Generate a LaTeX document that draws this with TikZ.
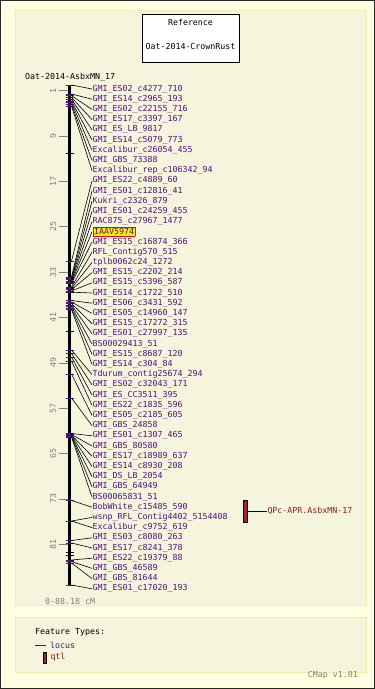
\documentclass[tikz,border=0pt]{standalone}
\usepackage{fontspec}
\newfontfamily\mapfont{DejaVu Sans Mono}
\usetikzlibrary{positioning}
\definecolor{pagebg}{RGB}{255,255,226}
\definecolor{panelbg}{RGB}{245,245,222}
\definecolor{panelrule}{RGB}{242,236,170}
\definecolor{locuscol}{RGB}{80,16,120}
\definecolor{qtlcol}{RGB}{160,36,48}
\definecolor{qtltext}{RGB}{140,28,36}
\definecolor{scalegray}{RGB}{128,128,128}
\newcommand*{\axisX}{69.5}
\newcommand*{\axisTop}{85}
\newcommand*{\axisBot}{585}
\newcommand*{\cmScale}{5.67}
\newcommand*{\labelX}{92}
\newcommand*{\hilite}[1]{{\fboxsep=1pt\fcolorbox{red}{yellow}{#1}}}

\begin{document}
\begin{tikzpicture}[x=1pt,y=-1pt,
	font={\mapfont\fontsize{8.3}{10}\selectfont},
	locuslabel/.style={anchor=west,inner sep=0.5pt,text=locuscol},
	leader/.style={black,line width=0.6pt},
	marktick/.style={locuscol,line width=0.6pt},
	scalelabel/.style={text=scalegray,rotate=90,inner sep=0pt},
	qtlbar/.style={draw=black,fill=qtlcol,minimum width=4,minimum height=22,inner sep=0pt,line width=0.6pt}]
	% page and panels
	\fill[pagebg] (0,0) rectangle (375,689);
	\draw[black!85,line width=1pt] (0.5,0.5) rectangle (374.5,688.5);
	\filldraw[fill=panelbg,draw=panelrule,line width=1pt] (15,10) rectangle (366,605);
	\filldraw[fill=panelbg,draw=panelrule,line width=1pt] (15,617) rectangle (366,672);
	
	% reference box
	\node[draw=black,fill=white,minimum width=97,minimum height=48,line width=0.8pt] (refbox) at (190.5,38) {};
	\node (reftitle) at (190.5,22) {Reference};
	\node (refmap) at (190.5,46) {Oat-2014-CrownRust};
	\node[anchor=west,inner sep=0pt] (mapname) at (25,77) {Oat-2014-AsbxMN\_17};
	
	% scale
	\foreach \c in {1,9,...,81} {
		\draw[scalegray,line width=0.6pt] (59,{\axisTop+\c*\cmScale}) -- (\axisX,{\axisTop+\c*\cmScale});
		\node[scalelabel] (s\c) at (53,{\axisTop+\c*\cmScale}) {\c};
	}
	\draw[line width=3pt] (\axisX,\axisTop) -- (\axisX,\axisBot);
	\draw[line width=1pt] (66,\axisTop) -- (73,\axisTop);
	\draw[line width=1pt] (66,\axisBot) -- (73,\axisBot);
	\node[text=scalegray,anchor=west,inner sep=0pt] (range) at (45,601) {0-88.18 cM};
	
	% markers without label
	\foreach \py in {153,331,552,555} {
		\draw[black,line width=0.8pt] (\axisX-4,\py) -- (\axisX+4,\py);
	}
	
	% loci
	\foreach \n/\txt/\py in {
		1/GMI\_ES02\_c4277\_710/85,
		2/GMI\_ES14\_c2965\_193/94,
		3/GMI\_ES02\_c22155\_716/95.7,
		4/GMI\_ES17\_c3397\_167/97.4,
		5/GMI\_ES\_LB\_9817/99.1,
		6/GMI\_ES14\_c5079\_773/100.8,
		7/Excalibur\_c26054\_455/102.5,
		8/GMI\_GBS\_73388/104.2,
		9/Excalibur\_rep\_c106342\_94/106,
		10/GMI\_ES22\_c4889\_60/261,
		11/GMI\_ES01\_c12816\_41/277,
		12/Kukri\_c2326\_879/278.3,
		13/GMI\_ES01\_c24259\_455/279.6,
		14/RAC875\_c27967\_1477/280.9,
		15/\hilite{IAAV5974}/282.2,
		16/GMI\_ES15\_c16874\_366/283.5,
		17/RFL\_Contig570\_515/287,
		18/tplb0062c24\_1272/288.3,
		19/GMI\_ES15\_c2202\_214/289.6,
		20/GMI\_ES15\_c5396\_587/290.9,
		21/GMI\_ES14\_c1722\_510/292.2,
		22/GMI\_ES06\_c3431\_592/300.5,
		23/GMI\_ES05\_c14960\_147/302,
		24/GMI\_ES15\_c17272\_315/303.5,
		25/GMI\_ES01\_c27997\_135/305,
		26/BS00029413\_51/306.5,
		27/GMI\_ES15\_c8687\_120/308,
		28/GMI\_ES14\_c304\_84/309.5,
		29/Tdurum\_contig25674\_294/350,
		30/GMI\_ES02\_c32043\_171/353.5,
		31/GMI\_ES\_CC3511\_395/357,
		32/GMI\_ES22\_c1835\_596/361,
		33/GMI\_ES05\_c2185\_605/374,
		34/GMI\_GBS\_24858/398,
		35/GMI\_ES01\_c1307\_465/433.5,
		36/GMI\_GBS\_80580/434.5,
		37/GMI\_ES17\_c18989\_637/435,
		38/GMI\_ES14\_c8930\_208/435.5,
		39/GMI\_DS\_LB\_2054/436,
		40/GMI\_GBS\_64949/436.5,
		41/BS00065831\_51/437,
		42/BobWhite\_c15485\_590/500.5,
		43/wsnp\_RFL\_Contig4402\_5154408/521,
		44/Excalibur\_c9752\_619/521,
		45/GMI\_ES03\_c8080\_263/540.5,
		46/GMI\_ES17\_c8241\_378/543,
		47/GMI\_ES22\_c19379\_88/560,
		48/GMI\_GBS\_46589/561.5,
		49/GMI\_GBS\_81644/563,
		50/GMI\_ES01\_c17020\_193/585} {
		\draw[marktick] (\axisX-4,\py) -- (\axisX+4,\py);
		\coordinate (p\n) at (\axisX+2,\py);
		\node[locuslabel] (m\n) at (\labelX,{89+(\n-1)*10.2}) {\txt};
		\draw[leader] (p\n) -- (m\n.west);
	}
	
	% qtl
	\node[qtlbar] (qtl) at (245,511) {};
	\node[anchor=west,inner sep=0pt,text=qtltext,right=20pt of qtl] (qtlname) {QPc-APR.AsbxMN-17};
	\draw[leader] (qtl) -- (qtlname);
	
	% legend
	\node[anchor=west,inner sep=0pt] (legtitle) at (35,632) {Feature Types:};
	\coordinate (locusA) at (35,645);
	\coordinate (locusB) at (46,645);
	\draw[locuscol,line width=0.8pt] (locusA) -- (locusB);
	\node[anchor=west,inner sep=0pt,text=locuscol,right=4pt of locusB] (leglocus) {locus};
	\node[qtlbar,minimum width=3,minimum height=11] (legbar) at (44.5,657.5) {};
	\node[anchor=west,inner sep=0pt,text=qtltext,right=4pt of legbar] (legqtl) {qtl};
	\node[anchor=east,inner sep=0pt,text=scalegray] (version) at (358,675) {CMap v1.01};
\end{tikzpicture}
\end{document}
